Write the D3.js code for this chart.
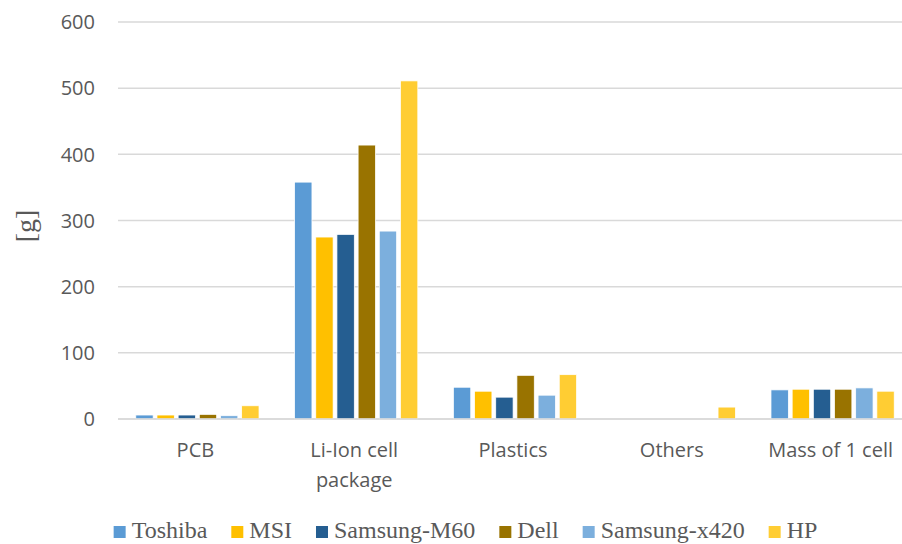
<!DOCTYPE html>
<html>
<head>
<meta charset="utf-8">
<script src="https://cdn.jsdelivr.net/npm/d3@7"></script>
<style>
  body { margin: 0; background: #fff; }
  svg { display: block; }
</style>
</head>
<body>
<div id="chart"></div>
<script>
var width = 902,
    height = 544;

var categories = ["PCB", "Li-Ion cell package", "Plastics", "Others", "Mass of 1 cell"];
var categoryLines = [["PCB"], ["Li-Ion cell", "package"], ["Plastics"], ["Others"], ["Mass of 1 cell"]];
var seriesNames = ["Toshiba", "MSI", "Samsung-M60", "Dell", "Samsung-x420", "HP"];
var seriesColors = ["#5b9bd5", "#ffc000", "#255e91", "#997300", "#7cafdd", "#ffcd33"];

// values per series, in category order
var toshiba = [6, 358, 48, 0, 44];
var msi = [6, 275, 42, 0, 45];
var samsungM60 = [6, 279, 33, 0, 45];
var dell = [7, 414, 66, 0, 45];
var samsungX420 = [5, 284, 36, 0, 47];
var hp = [20, 511, 67, 18, 42];
var seriesValues = [toshiba, msi, samsungM60, dell, samsungX420, hp];

var yTicks = [0, 100, 200, 300, 400, 500, 600];

// the plot area runs a little past the right edge of the picture (cropped)
var margin = {top: 22, left: 118, bottom: 125};
var plotW = 794,
    plotH = height - margin.top - margin.bottom;

var svg = d3.select("#chart").append("svg")
    .attr("width", width)
    .attr("height", height);

var g = svg.append("g")
    .attr("transform", "translate(" + margin.left + "," + margin.top + ")");

var x0 = d3.scaleBand()
    .domain(categories)
    .range([0, plotW])
    .paddingInner(0.2)
    .paddingOuter(0.1);

var x1 = d3.scaleBand()
    .domain(seriesNames)
    .range([0, x0.bandwidth()])
    .paddingInner(0.18)
    .paddingOuter(0.09);

var y = d3.scaleLinear()
    .domain([0, 600])
    .range([plotH, 0]);

// gridlines
g.selectAll(".grid")
    .data(yTicks)
    .enter().append("line")
    .attr("class", "grid")
    .attr("x1", 0)
    .attr("x2", plotW)
    .attr("y1", function (d) { return y(d); })
    .attr("y2", function (d) { return y(d); })
    .style("stroke", "#d9d9d9")
    .style("stroke-width", 1.5);

// y tick labels
g.selectAll(".ylab")
    .data(yTicks)
    .enter().append("text")
    .attr("class", "ylab")
    .attr("x", -23)
    .attr("y", function (d) { return y(d); })
    .attr("dy", "0.36em")
    .attr("text-anchor", "end")
    .style("font-family", "'Open Sans', sans-serif")
    .style("font-size", "20px")
    .style("fill", "#595959")
    .text(function (d) { return d; });

// bars
var groups = g.selectAll(".cat")
    .data(categories)
    .enter().append("g")
    .attr("class", "cat")
    .attr("transform", function (d) { return "translate(" + x0(d) + ",0)"; });

groups.selectAll("rect")
    .data(function (d, ci) {
        return seriesNames.map(function (s, si) {
            return {series: s, value: seriesValues[si][ci], color: seriesColors[si]};
        });
    })
    .enter().append("rect")
    .attr("x", function (d) { return x1(d.series); })
    .attr("width", x1.bandwidth())
    .attr("y", function (d) { return y(d.value); })
    .attr("height", function (d) { return y(0) - y(d.value); })
    .style("fill", function (d) { return d.color; })
    .style("stroke", "#ffffff")
    .style("stroke-width", 0.75)
    .style("display", function (d) { return d.value > 0 ? null : "none"; });

// baseline on top
g.append("line")
    .attr("x1", 0)
    .attr("x2", plotW)
    .attr("y1", y(0))
    .attr("y2", y(0))
    .style("stroke", "#d9d9d9")
    .style("stroke-width", 1.5);

// category labels
var catText = g.selectAll(".xlab")
    .data(categories)
    .enter().append("text")
    .attr("class", "xlab")
    .attr("text-anchor", "middle")
    .attr("transform", function (d) {
        return "translate(" + (x0(d) + x0.bandwidth() / 2 - 2) + "," + (plotH + 38) + ")";
    })
    .style("font-family", "'Open Sans', sans-serif")
    .style("font-size", "20px")
    .style("fill", "#595959");

catText.selectAll("tspan")
    .data(function (d, i) { return categoryLines[i]; })
    .enter().append("tspan")
    .attr("x", 0)
    .attr("dy", function (d, i) { return i === 0 ? 0 : 30; })
    .text(function (d) { return d; });

// y axis title
svg.append("text")
    .attr("transform", "translate(35,226) rotate(-90)")
    .attr("text-anchor", "middle")
    .style("font-family", "'Liberation Serif', 'Times New Roman', serif")
    .style("font-size", "28px")
    .style("fill", "#595959")
    .text("[g]");

// legend
var legend = svg.append("g").attr("class", "legend");
var lx = 0;
seriesNames.forEach(function (s, i) {
    var item = legend.append("g").attr("transform", "translate(" + lx + ",0)");
    item.append("rect")
        .attr("x", 0)
        .attr("y", -12)
        .attr("width", 12)
        .attr("height", 12)
        .style("fill", seriesColors[i]);
    var t = item.append("text")
        .attr("x", 18)
        .attr("y", 0)
        .style("font-family", "'Liberation Serif', 'Times New Roman', serif")
        .style("font-size", "24px")
        .style("fill", "#595959")
        .text(s);
    lx += 18 + t.node().getComputedTextLength() + 24;
});
var legendW = lx - 24;
legend.attr("transform", "translate(" + (465.5 - legendW / 2) + ",538)");
</script>
</body>
</html>
